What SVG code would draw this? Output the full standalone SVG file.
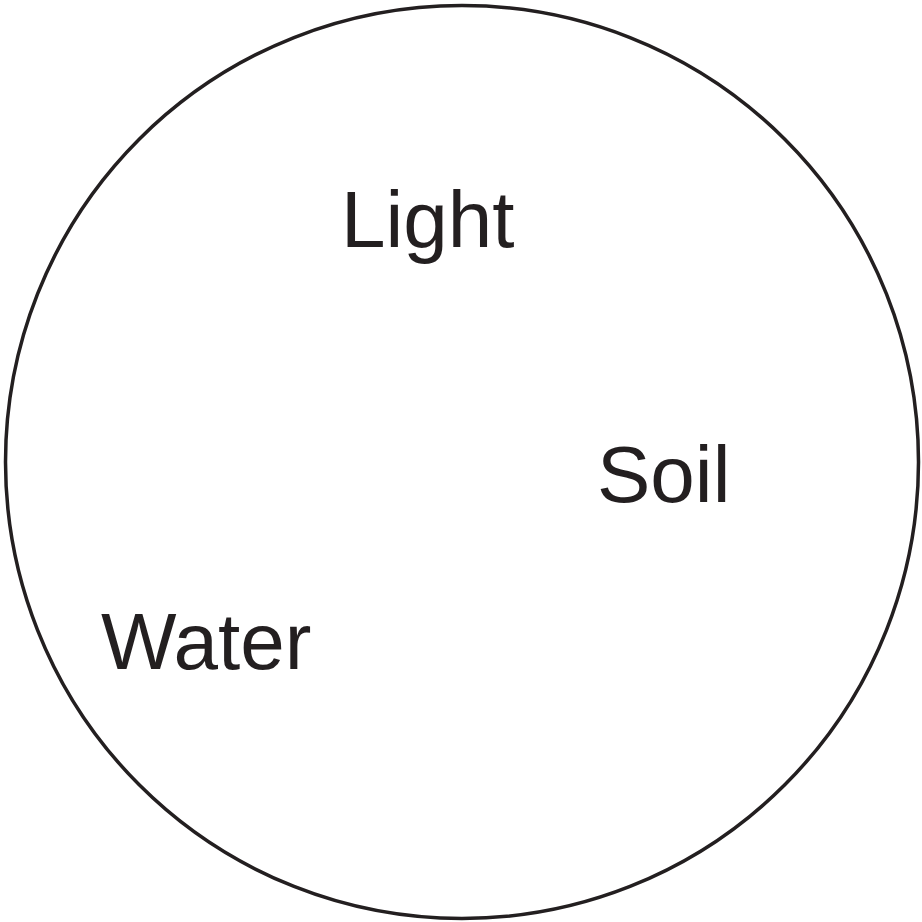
<svg xmlns="http://www.w3.org/2000/svg" width="922" height="922" viewBox="0 0 922 922">
<style>
.lbl{font-family:"Liberation Sans",Arial,sans-serif;font-size:80px;fill:#231f20}
</style>
<rect width="922" height="922" fill="#fff"/>
<g id="circle"><circle cx="462" cy="462" r="456.5" fill="none" stroke="#231f20" stroke-width="3.5"/></g>
<g id="light"><text class="lbl" x="341" y="247">Light</text></g>
<g id="soil"><text class="lbl" x="597" y="502">Soil</text></g>
<g id="water"><text class="lbl" x="101" y="669">Water</text></g>
<g id="connectors"></g>
</svg>
